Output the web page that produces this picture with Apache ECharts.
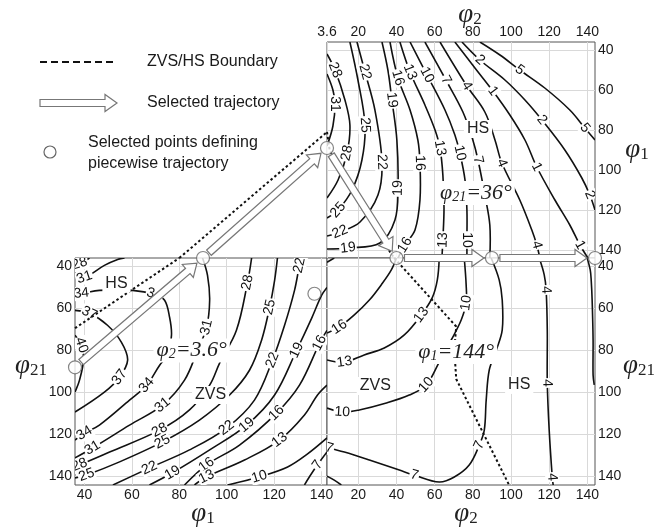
<!DOCTYPE html>
<html><head><meta charset="utf-8">
<script src="https://cdn.jsdelivr.net/npm/echarts@6/dist/echarts.min.js"></script>
<style>html,body{margin:0;padding:0;background:#fff}#c{width:671px;height:531px}</style>
</head><body><div id="c"></div>
<script>
// ---------------- DATA ----------------
const phi2Ticks = [3.6, 20, 40, 60, 80, 100, 120, 140];
const angTicks = [40, 60, 80, 100, 120, 140];

// Top-right panel: x = phi2, y = phi1 (phi21 = 36)
const trLevels = [31, 28, 25, 22, 19, 16, 13, 10, 7, 4, 1, 2, 5];
const trLines = [
  [[3.6,52],[6.7,60],[7.8,67],[6.7,78],[3.6,88]],
  [[3.6,42],[7.8,50],[13.0,65],[15.6,77.5],[14.1,91.5],[9.4,105],[3.6,114]],
  [[15.6,36],[19.8,55],[23.5,77.5],[21.9,95],[16.7,110],[9.4,120],[3.6,124]],
  [[19.3,36],[23.5,51],[28.7,70],[32.4,96],[30.3,112.5],[20.9,126],[10.4,131],[3.6,133]],
  [[32.4,36],[35.5,50],[37.6,65],[40.2,85],[40.8,109],[39.2,125],[31.3,136.5],[14.6,139],[3.6,139.5]],
  [[36.6,36],[40.8,54],[47.1,70],[51.2,85],[52.3,96.5],[52.3,115],[49.7,130],[44.4,137.5],[40.8,144]],
  [[41.8,36],[47.1,51],[54.9,67.5],[60.2,80],[62.8,89],[64.3,102.5],[64.9,119],[64.3,135],[63.8,144]],
  [[47.1,36],[56.0,52.5],[65.4,70],[70.6,82.5],[73.2,91.5],[75.9,105],[76.9,120],[76.9,135],[76.9,144]],
  [[54.9,36],[65.9,55],[74.8,71],[80.0,85],[82.7,95],[86.3,112.5],[88.9,127.5],[88.9,144]],
  [[62.8,36],[76.9,58],[86.3,71],[91.6,85],[95.2,96.5],[104.6,115],[110.9,130],[113.5,137.5],[115.1,144]],
  [[70.6,36],[81.1,49],[90.5,60.5],[99.4,72.5],[107.3,85],[113.5,98.5],[123.0,115],[130.8,127.5],[136.1,137.5],[140.3,144]],
  [[74.3,36],[83.7,45],[96.8,55],[107.3,65],[116.2,75],[128.2,90],[137.1,104],[141.3,112.5],[144,120]],
  [[83.7,36],[94.2,42.5],[104.6,50],[117.7,59],[130.8,70],[138.7,79],[144,85]]
];
const trLabelIdx = [[2],[1,4],[2,5],[1,3,6],[2,4,7],[1,4,7],[1,4,7],[1,4,7],[1,4],[1,4,7],[2,5,8],[1,4,7],[2,5]];
const trBoundary = [[3.6,81],[5,90],[8,97],[20.9,115],[36.6,141],[38.8,144]];
const trNotes = [[82.7,79.5,'HS'],[81.6,111.5,'φ21=36°']];

// Bottom-left panel: x = phi1, y = phi21 (phi2 = 3.6)
const blLevels = [40, 37, 34, 31, 31, 28, 28, 25, 22, 19, 16, 13, 10, 7];
const blLines = [
  [[36,72.7],[38.7,77.5],[39.6,84.6],[37.9,94.1],[36,99.8]],
  [[36,60.9],[42.1,62.3],[49.7,68.0],[55.6,76.1],[58.2,84.6],[54.8,92.7],[48.4,99.8],[36,109.3]],
  [[36,52.8],[38.7,52.8],[46.3,51.4],[60.3,51.4],[69.5,53.3],[73.8,56.1],[75.9,64.2],[76.7,72.7],[75.0,82.2],[71.7,87.0],[66.2,96.5],[59.0,103.6],[46.3,115.5],[40.0,119.3],[36,122.6]],
  [[36,131.1],[43.4,126.4],[59.0,115.5],[72.9,106.0],[82.2,94.1],[87.7,79.9],[91.5,69.0],[92.8,56.1],[91.9,44.3],[89.8,36]],
  [[36,44.3],[40,45.2],[48.4,39.5],[54,36.7],[56.9,36]],
  [[36,38.1],[37.9,38.6],[42.1,36]],
  [[36,134.9],[37.9,134.4],[50.6,128.3],[71.7,117.9],[84.3,108.3],[92.8,96.5],[97.0,86.0],[104.1,70.4],[108.8,47.6],[110.5,36]],
  [[36,140.6],[40.9,139.2],[54.8,133.0],[72.9,123.5],[88.5,113.1],[101.2,101.2],[109.6,89.4],[114.7,75.1],[118.1,59.4],[120.2,46.6],[121.4,36]],
  [[52,144],[67.4,135.9],[84.3,127.3],[99.9,116.9],[111.7,103.6],[119.3,84.6],[124.4,68.0],[128.6,51.4],[130.7,39.5],[131.6,36]],
  [[67.4,144],[77.1,138.2],[92.8,127.3],[108.4,115.5],[120.2,101.2],[129.5,79.9],[135.8,64.7],[140.0,53.8],[142.3,50]],
  [[82.2,144],[91.5,134.4],[105.4,125.0],[121.0,109.8],[130.7,96.5],[139.2,76.5],[142.3,70.4]],
  [[86.4,144],[91.5,140.1],[107.5,132.1],[122.3,122.6],[132.8,110.7],[138.3,101.2],[142.3,96.5]],
  [[100.4,144],[113.8,140.1],[125.7,135.4],[134.1,129.2],[142.3,121.6]],
  [[142.3,128.3],[138.3,134.4],[134.9,140.1],[132.8,144]]
];
const blLabelIdx = [[1],[1,5],[1,4,10,13],[1,3,6],[1],[1],[1,3,8],[1,3,8],[1,3,5,8],[1,3,5],[1,3,5],[1,3],[1],[1]];
const blBoundary = [[36,69.4],[59,51.9],[80,36]];
const blNotes = [[53.5,48.1,'HS'],[85.2,80,'φ2=3.6°'],[93.2,101.2,'ZVS']];

// Bottom-right panel: x = phi2, y = phi21 (phi1 = 144)
const brLevels = [16, 13, 10, 7, 4, 1, 4, 19];
const brLines = [
  [[39.9,36],[37.3,41.7],[32.0,48.8],[25.8,56.0],[17.9,63.1],[10.1,68.8],[3.6,71.7]],
  [[62.4,36],[61.4,46.4],[58.7,55.0],[53.0,63.1],[44.1,72.6],[33.6,78.8],[23.1,82.1],[12.7,85.5],[3.6,84.5]],
  [[75.5,36],[76.5,48.8],[76.5,57.4],[73.9,65.5],[68.7,75.0],[62.4,85.5],[55.6,96.4],[46.7,101.2],[34.7,105.0],[20.5,108.3],[11.6,109.3],[3.6,107.4]],
  [[89.6,36],[93.8,46.4],[95.4,56.0],[95.4,70.2],[92.3,79.8],[88.6,89.3],[87.0,103.6],[86.0,117.9],[83.4,125.0],[78.1,134.5],[70.3,140.2],[62.4,142.6],[49.3,139.3],[41.5,136.9],[25.8,132.1],[12.7,128.3],[4.8,126.4],[3.6,125.9]],
  [[114.8,36],[117.4,44.0],[118.4,51.2],[119.0,70.2],[119.0,95.5],[120.0,117.9],[121.6,140.2],[122.1,144]],
  [[139.9,36],[141.5,41.7],[142.0,46.4],[142.5,56.0],[143.0,75.0],[143.0,91.7],[143.6,96.4]],
  [[3.6,139.8],[7.4,141.7],[11.1,144]],
  [[3.6,38],[7.4,36]]
];
const brLabelIdx = [[5],[3,7],[2,6,10],[8,12,16],[2,4,6],[],[],[]];
const brBoundary = [[38.8,36],[71.3,68.6],[70.3,79.6],[71.3,93.6],[99,144]];
const brNotes = [[71.3,80.7,'φ1=144°'],[28.9,96.9,'ZVS'],[104.3,96.4,'HS']];

// Selected trajectory: panel index (0 = top-right, 1 = bottom-left) and point in that panel
const trajPanel = [1, 1, 0, 0, 0, 0];
const trajPts = [[36,88],[90,36],[3.6,89],[40,144],[90,144],[144,144]];
const blExtraPoints = [[137,53]];

// ---------------- CHART ----------------
const FONT = '"Liberation Sans", Arial, sans-serif';
const SERIF = '"Liberation Serif", "Times New Roman", serif';
const chart = echarts.init(document.getElementById('c'));

function axis(g, pos, min, max, ticks, inverse) {
  return {
    gridIndex: g, type: 'value', position: pos, min, max, inverse: !!inverse,
    axisLine: {show: false},
    axisTick: {show: false, customValues: ticks},
    axisLabel: {customValues: ticks, margin: 3, fontSize: 14, color: '#1a1a1a', fontFamily: FONT,
      formatter: v => String(v)},
    splitLine: {show: true, lineStyle: {color: '#d9d9d9', width: 1}}
  };
}

function contourSeries(g, lines, levels, labelIdx) {
  return {
    type: 'custom', xAxisIndex: g, yAxisIndex: g, z: 3, silent: true,
    data: lines.map((l, i) => [l[0][0], l[0][1], i]),
    renderItem(params, api) {
      const i = api.value(2);
      const pts = lines[i].map(p => api.coord(p));
      const cs = params.coordSys;
      const ch = [{type: 'polyline', shape: {points: pts, smooth: 0.35},
        style: {stroke: '#111', lineWidth: 1.6, fill: null}}];
      for (const k of labelIdx[i]) {
        const p = pts[k], a = pts[Math.max(k - 1, 0)], b = pts[Math.min(k + 1, pts.length - 1)];
        let ang = Math.atan2(b[1] - a[1], b[0] - a[0]);
        if (ang > Math.PI / 2) ang -= Math.PI;
        if (ang < -Math.PI / 2) ang += Math.PI;
        ch.push({type: 'text', x: p[0], y: p[1], rotation: -ang,
          style: {text: String(levels[i]), fontSize: 14, fontFamily: FONT, fill: '#111',
            align: 'center', verticalAlign: 'middle', backgroundColor: '#fff', padding: [0, 1]}});
      }
      return {type: 'group', children: ch,
        clipPath: {type: 'rect', shape: {x: cs.x, y: cs.y, width: cs.width, height: cs.height}}};
    }
  };
}

function notesSeries(g, notes) {
  return {
    type: 'custom', xAxisIndex: g, yAxisIndex: g, z: 6, silent: true,
    data: notes.map((n, i) => [n[0], n[1], i]),
    renderItem(params, api) {
      const n = notes[api.value(2)];
      const p = api.coord([n[0], n[1]]);
      const m = /^φ(\d+)(.*)$/.exec(n[2]);
      const st = m ? {
        text: '{p|φ}{s|' + m[1] + '}{p|' + m[2] + '}', fontSize: 22, fontFamily: SERIF, fontStyle: 'italic',
        rich: {p: {fontSize: 22, fontFamily: SERIF, fontStyle: 'italic', fill: '#222'},
               s: {fontSize: 14, fontFamily: SERIF, fontStyle: 'italic', verticalAlign: 'bottom', fill: '#222'}}
      } : {text: n[2], fontSize: 16, fontFamily: FONT};
      return {type: 'text', x: p[0], y: p[1],
        style: Object.assign({align: 'center', verticalAlign: 'middle', fill: '#222',
          backgroundColor: '#fff', padding: [1, 3]}, st)};
    }
  };
}

function boundarySeries(g, pts) {
  return {type: 'line', xAxisIndex: g, yAxisIndex: g, data: pts, symbol: 'none', z: 4, silent: true,
    lineStyle: {color: '#111', width: 2, type: [2.5, 2.5]}};
}

function circleSeries(g, pts) {
  return {type: 'scatter', xAxisIndex: g, yAxisIndex: g, data: pts, symbolSize: 13, clip: false, z: 10, silent: true,
    itemStyle: {color: '#fff', borderColor: '#666', borderWidth: 1.2}};
}

const trCircles = trajPts.filter((p, i) => trajPanel[i] === 0);
const blCircles = trajPts.filter((p, i) => trajPanel[i] === 1).concat(blExtraPoints);

chart.setOption({
  animation: false,
  backgroundColor: '#fff',
  grid: [
    {left: 327, top: 42, width: 268, height: 216, show: true, borderColor: '#555', borderWidth: 1, backgroundColor: '#fff'},
    {left: 75, top: 258, width: 252, height: 227, show: true, borderColor: '#555', borderWidth: 1, backgroundColor: '#fff'},
    {left: 327, top: 258, width: 268, height: 227, show: true, borderColor: '#555', borderWidth: 1, backgroundColor: '#fff'}
  ],
  xAxis: [
    axis(0, 'top', 3.6, 144, phi2Ticks),
    axis(1, 'bottom', 36, 142.3, angTicks),
    axis(2, 'bottom', 3.6, 144, phi2Ticks.slice(1))
  ],
  yAxis: [
    axis(0, 'right', 36, 144, angTicks, true),
    axis(1, 'left', 36, 144, angTicks, true),
    axis(2, 'right', 36, 144, angTicks, true)
  ],
  series: [
    contourSeries(0, trLines, trLevels, trLabelIdx),
    contourSeries(1, blLines, blLevels, blLabelIdx),
    contourSeries(2, brLines, brLevels, brLabelIdx),
    boundarySeries(0, trBoundary),
    boundarySeries(1, blBoundary),
    boundarySeries(2, brBoundary),
    notesSeries(0, trNotes),
    notesSeries(1, blNotes),
    notesSeries(2, brNotes),
    circleSeries(0, trCircles),
    circleSeries(1, blCircles)
  ]
});

function arrowPts(p0, p1, s0, s1) {
  const dx = p1[0] - p0[0], dy = p1[1] - p0[1];
  const L = Math.hypot(dx, dy), ux = dx / L, uy = dy / L, vx = -uy, vy = ux;
  const sx = p0[0] + ux * s0, sy = p0[1] + uy * s0, len = L - s0 - s1;
  const hw = 3.5, hh = 8.5, hl = 12;
  return [[0,-hw],[len-hl,-hw],[len-hl,-hh],[len,0],[len-hl,hh],[len-hl,hw],[0,hw]]
    .map(([a, b]) => [sx + ux * a + vx * b, sy + uy * a + vy * b]);
}
const arrowStyle = {fill: '#fff', stroke: '#777', lineWidth: 1.2};
const px = (g, p) => chart.convertToPixel({gridIndex: g}, p);

const graphics = [];
for (let i = 0; i < trajPts.length - 1; i++) {
  const a = px(trajPanel[i], trajPts[i]), b = px(trajPanel[i + 1], trajPts[i + 1]);
  graphics.push({type: 'polygon', z: 8, silent: true, shape: {points: arrowPts(a, b, 8, 8)}, style: arrowStyle});
}
const bA = px(1, blBoundary[blBoundary.length - 1]), bB = px(0, trBoundary[0]);
graphics.push({type: 'polyline', z: 4, silent: true, shape: {points: [bA, bB]},
  style: {stroke: '#111', lineWidth: 2, lineDash: [2.5, 2.5], fill: null}});

// legend
graphics.push({type: 'polyline', shape: {points: [[40, 62], [117, 62]]}, style: {stroke: '#111', lineWidth: 2, lineDash: [7, 4], fill: null}});
graphics.push({type: 'text', x: 147, y: 62, style: {text: 'ZVS/HS Boundary', fontSize: 16, fontFamily: FONT, fill: '#1a1a1a', verticalAlign: 'middle'}});
graphics.push({type: 'polygon', shape: {points: arrowPts([40, 103], [117, 103], 0, 0)}, style: arrowStyle});
graphics.push({type: 'text', x: 147, y: 103, style: {text: 'Selected trajectory', fontSize: 16, fontFamily: FONT, fill: '#1a1a1a', verticalAlign: 'middle'}});
graphics.push({type: 'circle', shape: {cx: 50, cy: 152, r: 6}, style: {fill: '#fff', stroke: '#666', lineWidth: 1.2}});
graphics.push({type: 'text', x: 88, y: 143, style: {text: 'Selected points defining', fontSize: 16, fontFamily: FONT, fill: '#1a1a1a', verticalAlign: 'middle'}});
graphics.push({type: 'text', x: 88, y: 164, style: {text: 'piecewise trajectory', fontSize: 16, fontFamily: FONT, fill: '#1a1a1a', verticalAlign: 'middle'}});

// axis titles
function title(x, y, sub) {
  return {type: 'text', x, y, style: {
    text: '{a|φ}{b|' + sub + '}', align: 'center', verticalAlign: 'middle', fill: '#222',
    rich: {a: {fontSize: 27, fontFamily: SERIF, fontStyle: 'italic', fill: '#222'},
           b: {fontSize: 17, fontFamily: SERIF, verticalAlign: 'bottom', fill: '#222'}}}};
}
graphics.push(title(470, 15, '2'));
graphics.push(title(637, 150, '1'));
graphics.push(title(31, 366, '21'));
graphics.push(title(639, 366, '21'));
graphics.push(title(203, 514, '1'));
graphics.push(title(466, 514, '2'));

chart.setOption({graphic: graphics});
</script>
</body></html>
